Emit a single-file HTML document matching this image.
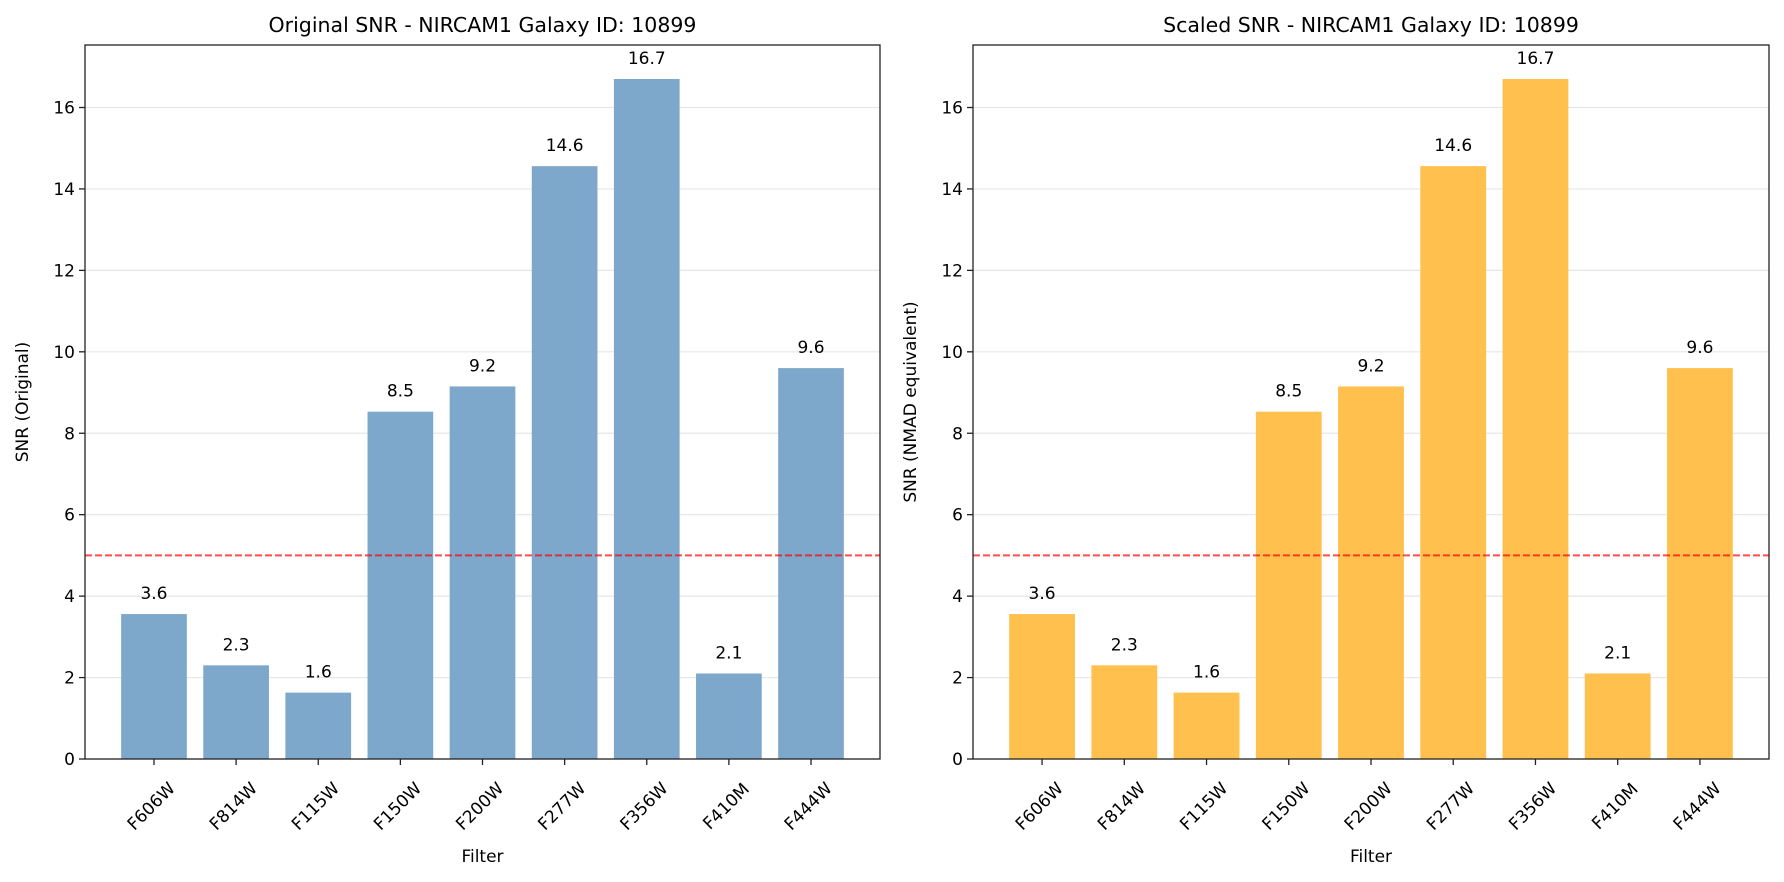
<!DOCTYPE html>
<html><head><meta charset="utf-8"><style>
html,body{margin:0;padding:0;background:#fff}
svg{display:block;font-family:"DejaVu Sans","Liberation Sans",sans-serif}
</style></head><body>
<svg id="fig" width="1784" height="882" viewBox="0 0 1784 882" xmlns="http://www.w3.org/2000/svg"></svg>
<script>
const categories = ["F606W","F814W","F115W","F150W","F200W","F277W","F356W","F410M","F444W"];
const originalSnr = [3.56,2.3,1.63,8.53,9.15,14.56,16.7,2.1,9.6];
const scaledSnr = [3.56,2.3,1.63,8.53,9.15,14.56,16.7,2.1,9.6];
const yTicks = [0,2,4,6,8,10,12,14,16];
const threshold = [5];

const NS="http://www.w3.org/2000/svg";
const svg=document.getElementById('fig');
function mk(tag,attrs,parent){const e=document.createElementNS(NS,tag);for(const k in attrs)e.setAttribute(k,attrs[k]);(parent||svg).appendChild(e);return e;}

function drawPanel(px0,px1,values,color,title,ylabel,prefix){
  const top=45,bottom=759;
  const g=mk('g',{});
  
  
  const ymax=Math.max(...values)*1.05;
  const n=categories.length;
  const xmin=-0.84, xmax=(n-1)+0.84;
  const xs=v=>px0+(v-xmin)/(xmax-xmin)*(px1-px0);
  const ys=v=>bottom-v/ymax*(bottom-top);
  yTicks.forEach(t=>{
    const l=mk('line',{x1:px0,x2:px1,y1:ys(t),y2:ys(t),stroke:'#e6e6e6','stroke-width':1.2},g);
    
    
  });
  values.forEach((v,i)=>{
    const w=0.8*(px1-px0)/(xmax-xmin);
    const r=mk('rect',{x:xs(i)-w/2,y:ys(v),width:w,height:bottom-ys(v),fill:color},g);
    
    
    const t=mk('text',{x:xs(i),y:ys(v)-15,'text-anchor':'middle','font-size':17,fill:'#000'},g);
    t.textContent=v.toFixed(1);
    
    
  });
  const th=mk('line',{x1:px0,x2:px1,y1:ys(threshold[0]),y2:ys(threshold[0]),stroke:'rgba(255,0,0,0.7)','stroke-width':2,'stroke-dasharray':'7,3'},g);
  
  
  const fr=mk('rect',{x:px0,y:top,width:px1-px0,height:bottom-top,fill:'none',stroke:'#222','stroke-width':1.3},g);
  
  
  yTicks.forEach(t=>{
    mk('line',{x1:px0-6,x2:px0,y1:ys(t),y2:ys(t),stroke:'#222','stroke-width':1.3},g);
    const tx=mk('text',{x:px0-10,y:ys(t)+6,'text-anchor':'end','font-size':17,fill:'#000'},g);
    tx.textContent=t;
    
    
  });
  categories.forEach((c,i)=>{
    mk('line',{x1:xs(i),x2:xs(i),y1:bottom,y2:bottom+6,stroke:'#222','stroke-width':1.3},g);
    const cx=xs(i)-3, cy=806;
    const tx=mk('text',{x:cx,y:cy+6,'text-anchor':'middle','font-size':17,fill:'#000',transform:`rotate(-45 ${cx} ${cy})`},g);
    tx.textContent=c;
    
    
  });
  const tt=mk('text',{x:(px0+px1)/2,y:32,'text-anchor':'middle','font-size':20.5,fill:'#000'},g);
  tt.textContent=title;
  
  
  const xl=mk('text',{x:(px0+px1)/2,y:862,'text-anchor':'middle','font-size':17,fill:'#000'},g);
  xl.textContent='Filter';
  
  
  const ly=(top+bottom)/2, lx=px0-57;
  const yl=mk('text',{x:lx,y:ly,'text-anchor':'middle','font-size':17,fill:'#000',transform:`rotate(-90 ${lx} ${ly})`},g);
  yl.textContent=ylabel;
  
  
}
drawPanel(85,880,originalSnr,'#7ea8cb','Original SNR - NIRCAM1 Galaxy ID: 10899','SNR (Original)','original');
drawPanel(973,1769,scaledSnr,'#ffc04d','Scaled SNR - NIRCAM1 Galaxy ID: 10899','SNR (NMAD equivalent)','scaled');
</script>
</body></html>
